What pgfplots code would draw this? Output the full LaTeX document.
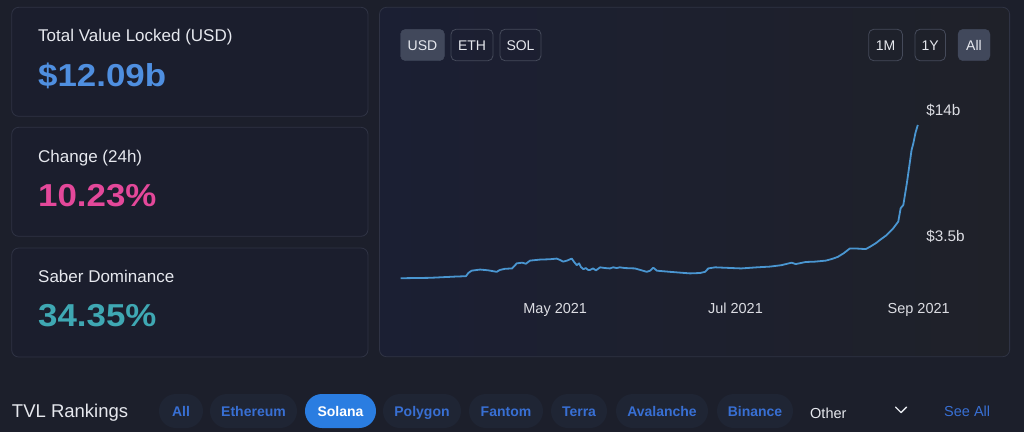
\documentclass[border=0pt]{standalone}
\usepackage{fontspec}
\setmainfont{Liberation Sans}
\newfontfamily\numfont{Liberation Sans}[FakeStretch=1.1]
\usepackage{pgfplots}
\pgfplotsset{compat=1.18}
\definecolor{bg}{HTML}{1C1F2B}
\definecolor{panel}{HTML}{1B1E2D}
\definecolor{panelborder}{HTML}{2F3344}
\definecolor{chartA}{HTML}{1B1F33}
\definecolor{chartB}{HTML}{1F2129}
\definecolor{titlecol}{HTML}{E6E8EE}
\definecolor{tvlblue}{HTML}{4F8FE0}
\definecolor{chgpink}{HTML}{E4489A}
\definecolor{domteal}{HTML}{3FA8B3}
\definecolor{linecol}{HTML}{4A96D1}
\definecolor{btnfill}{HTML}{41485B}
\definecolor{btnborder}{HTML}{454A5A}
\definecolor{pillfill}{HTML}{1F2534}
\definecolor{pilltext}{HTML}{386FD3}
\definecolor{solfill}{HTML}{2A7DE1}
\definecolor{ticktext}{HTML}{DCDDE3}
\newcommand{\fs}[1]{\fontsize{#1}{#1}\selectfont}
\pgfplotstableread{
day val
8.7 2.19
18.6 2.20
27.1 2.23
30.8 2.24
31.6 2.32
32.7 2.38
35.6 2.41
38.3 2.39
41.2 2.35
42.3 2.40
44.0 2.43
46.4 2.44
48.0 2.58
49.8 2.60
51.1 2.57
52.5 2.66
55.9 2.69
59.2 2.70
61.5 2.72
62.6 2.68
63.7 2.63
65.0 2.66
66.6 2.72
67.4 2.62
68.3 2.53
69.1 2.58
69.7 2.48
70.5 2.42
71.4 2.45
72.1 2.40
72.8 2.40
73.8 2.44
74.8 2.39
76.2 2.47
77.9 2.45
79.5 2.44
80.6 2.47
81.8 2.45
82.9 2.47
84.6 2.45
88.0 2.44
92.0 2.35
93.1 2.38
94.2 2.46
95.4 2.38
99.9 2.35
103.2 2.33
106.6 2.31
110.0 2.32
111.7 2.35
112.8 2.44
115.1 2.47
123.9 2.44
129.3 2.47
133.7 2.49
137.6 2.53
141.0 2.60
142.4 2.56
145.8 2.62
148.9 2.63
152.6 2.66
154.7 2.71
156.6 2.77
158.7 2.89
160.7 3.04
162.8 3.04
166.1 3.02
167.9 3.12
169.6 3.23
170.9 3.34
173.0 3.51
175.4 3.80
177.1 4.09
177.9 4.74
178.8 4.91
180.0 6.24
181.6 9.01
182.2 9.70
182.9 10.86
183.7 11.87
}\tvldata
\begin{document}
\begin{tikzpicture}[x=1pt,y=-1pt]
\useasboundingbox (0,0) rectangle (1024,432);
\fill[bg] (0,0) rectangle (1024,432);
% left stat panels
\foreach \t in {7.3,127.3,248}{
  \draw[draw=panelborder, fill=panel, rounded corners=7pt, line width=0.8pt] (11.7,\t) rectangle (368,\t+109);
}
\node[anchor=base west, inner sep=0, text=titlecol] at (38,41.7) {\fs{17}Total Value Locked (USD)};
\node[anchor=base west, inner sep=0, text=tvlblue] at (38,86) {\numfont\bfseries\fs{31.7}\$12.09b};
\node[anchor=base west, inner sep=0, text=titlecol] at (38,162.7) {\fs{17}Change (24h)};
\node[anchor=base west, inner sep=0, text=chgpink] at (38,206) {\numfont\bfseries\fs{31.7}10.23\%};
\node[anchor=base west, inner sep=0, text=titlecol] at (38,282.7) {\fs{17}Saber Dominance};
\node[anchor=base west, inner sep=0, text=domteal] at (38,326.7) {\numfont\bfseries\fs{31.7}34.35\%};
% chart panel
\draw[draw=panelborder, left color=chartA, right color=chartB, rounded corners=7pt, line width=0.8pt] (379.5,7.3) rectangle (1009.6,356.7);
% buttons
\draw[rounded corners=5pt, fill=btnfill, draw=btnfill] (400.5,29.3) rectangle (444.5,60.7);
\node[anchor=base, inner sep=0, text=titlecol] at (422.5,50) {\fs{14}USD};
\draw[rounded corners=5pt, draw=btnborder, line width=0.8pt] (451,29.3) rectangle (493,60.7);
\node[anchor=base, inner sep=0, text=titlecol] at (472,50) {\fs{14}ETH};
\draw[rounded corners=5pt, draw=btnborder, line width=0.8pt] (500,29.3) rectangle (541,60.7);
\node[anchor=base, inner sep=0, text=titlecol] at (520.5,50) {\fs{14}SOL};
\draw[rounded corners=5pt, draw=btnborder, line width=0.8pt] (868.7,29.3) rectangle (902.4,60.7);
\node[anchor=base, inner sep=0, text=titlecol] at (885.5,50) {\fs{14}1M};
\draw[rounded corners=5pt, draw=btnborder, line width=0.8pt] (915,29.3) rectangle (945.5,60.7);
\node[anchor=base, inner sep=0, text=titlecol] at (930.2,50) {\fs{14}1Y};
\draw[rounded corners=5pt, fill=btnfill, draw=btnfill] (958,29.3) rectangle (990,60.7);
\node[anchor=base, inner sep=0, text=titlecol] at (974,50) {\fs{14}All};
% chart
\begin{axis}[at={(389.72pt,-289.7pt)}, anchor=south west,
  scale only axis, width=530.42pt, height=191.8pt,
  xmin=5, xmax=184.5, ymode=log, ymin=1.93, ymax=16,
  axis line style={draw=none}, tick style={draw=none}, major tick length=0pt,
  xtick={61,122,184}, xticklabels={May 2021,Jul 2021,Sep 2021},
  ytick={3.5,14}, yticklabels={\$3.5b,\$14b}, yticklabel pos=right,
  xticklabel style={anchor=base, inner sep=0pt, yshift=-23.8pt, font={\fs{14.5}}, text=ticktext},
  yticklabel style={anchor=base west, inner sep=0pt, xshift=5.9pt, yshift=-5.5pt, font={\fs{15.3}}, text=ticktext},
  clip=false]
\addplot[color=linecol, line width=1.8pt, line join=round, mark=none] table[x=day, y=val] {\tvldata};
\end{axis}
% bottom rankings row
\node[anchor=base west, inner sep=0, text=titlecol] at (11.8,417.3) {\fs{18.5}TVL Rankings};
\foreach \a/\b/\n in {159/203/All, 210/297/Ethereum, 383/461/Polygon, 469/543/Fantom, 551/607/Terra, 616/708/Avalanche, 717/793/Binance}{
  \fill[pillfill, rounded corners=16.9pt] (\a,394) rectangle (\b,428);
  \node[anchor=base, inner sep=0, text=pilltext] at ({(\a+\b)/2},416) {\bfseries\fs{14}\n};
}
\fill[solfill, rounded corners=16.9pt] (305,394) rectangle (376,428);
\node[anchor=base, inner sep=0, text=white] at (340.5,416) {\bfseries\fs{14}Solana};
\node[anchor=base west, inner sep=0, text=titlecol] at (810,418) {\fs{14.5}Other};
\draw[titlecol, line width=1.4pt, line cap=round, line join=round] (895.5,407) -- (901,412.5) -- (906.5,407);
\node[anchor=base west, inner sep=0, text=pilltext] at (944,416) {\fs{14.5}See All};
\end{tikzpicture}
\end{document}
